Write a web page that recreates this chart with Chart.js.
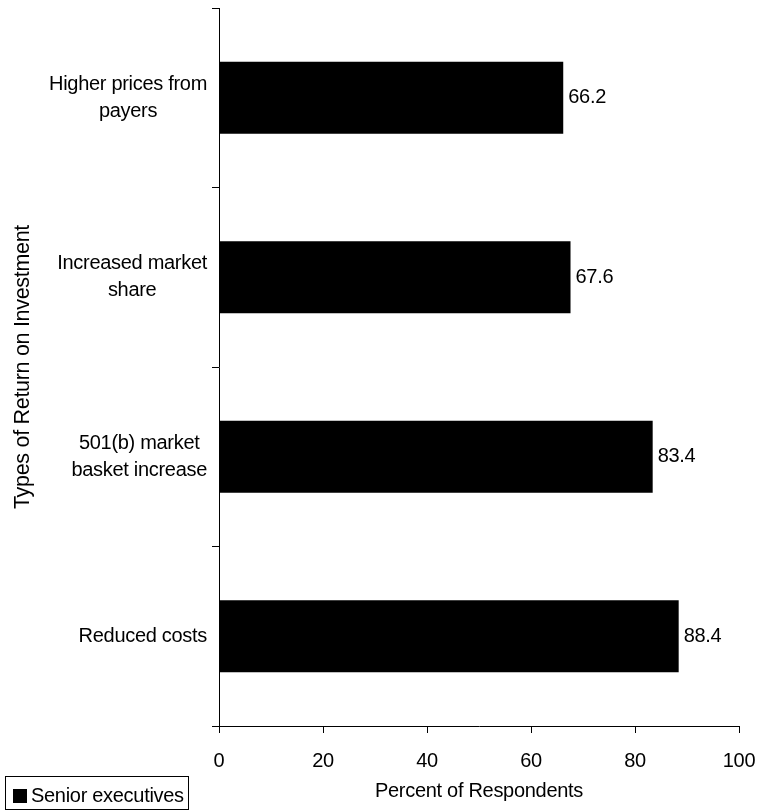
<!DOCTYPE html>
<html>
<head>
<meta charset="utf-8">
<script src="https://cdn.jsdelivr.net/npm/chart.js@4"></script>
<style>
    html, body { margin: 0; padding: 0; background: #fff; }
    #wrap { width: 759px; height: 812px; }
</style>
</head>
<body>
<div id="wrap"><canvas id="roiChart" width="759" height="812"></canvas></div>
<script>
const categories = [
    ['Higher prices from', 'payers'],
    ['Increased market', 'share'],
    ['501(b) market', 'basket increase'],
    ['Reduced costs']
];
const seniorExecs = [66.2, 67.6, 83.4, 88.4];
const seriesName  = 'Senior executives';
const xTicks      = [0, 20, 40, 60, 80, 100];

const FONT = "'Liberation Sans', Arial, sans-serif";
const SPACING = '-0.3px';

// slightly tighter text, like the original
const spacingPlugin = {
    id: 'spacing',
    beforeUpdate(chart) { chart.ctx.letterSpacing = SPACING; },
    beforeDraw(chart) { chart.ctx.letterSpacing = SPACING; }
};

// category labels: block right-aligned to the axis, lines centred inside it
const yLabelPlugin = {
    id: 'yLabels',
    afterDraw(chart) {
        const ctx = chart.ctx;
        const yScale = chart.scales.y;
        ctx.save();
        ctx.font = '20px ' + FONT;
        ctx.fillStyle = '#000';
        ctx.textAlign = 'center';
        ctx.textBaseline = 'middle';
        categories.forEach((lines, i) => {
            const cy = yScale.getPixelForValue(i);
            let maxW = 0;
            lines.forEach(l => { maxW = Math.max(maxW, ctx.measureText(l).width); });
            const cx = yScale.right - 12 - maxW / 2;
            const lh = 27;
            const start = cy - (lines.length - 1) * lh / 2;
            lines.forEach((l, j) => ctx.fillText(l, cx, start + j * lh));
        });
        ctx.restore();
    }
};

// value next to each bar end
const valuePlugin = {
    id: 'values',
    afterDatasetsDraw(chart) {
        const ctx = chart.ctx;
        const meta = chart.getDatasetMeta(0);
        ctx.save();
        ctx.font = '20px ' + FONT;
        ctx.fillStyle = '#000';
        ctx.textAlign = 'left';
        ctx.textBaseline = 'middle';
        meta.data.forEach((bar, i) => {
            ctx.fillText(seniorExecs[i].toFixed(1), bar.x + 5, bar.y);
        });
        ctx.restore();
    }
};

// boxed legend in the bottom-left corner
const legendPlugin = {
    id: 'boxLegend',
    afterDraw(chart) {
        const ctx = chart.ctx;
        ctx.save();
        ctx.strokeStyle = '#000';
        ctx.lineWidth = 1;
        ctx.strokeRect(5.5, 776.5, 183, 33);
        ctx.fillStyle = '#000';
        ctx.fillRect(13, 789, 14, 14);
        ctx.font = '20px ' + FONT;
        ctx.textAlign = 'left';
        ctx.textBaseline = 'middle';
        ctx.fillText(chart.data.datasets[0].label, 31, 796);
        ctx.restore();
    }
};

new Chart(document.getElementById('roiChart').getContext('2d'), {
    type: 'bar',
    data: {
        labels: categories,
        datasets: [{
            label: seriesName,
            data: seniorExecs,
            backgroundColor: '#000',
            borderWidth: 0,
            barPercentage: 0.4,
            categoryPercentage: 1.0
        }]
    },
    options: {
        indexAxis: 'y',
        responsive: false,
        animation: false,
        layout: { padding: { top: 8, right: 20, left: 0, bottom: 0 } },
        plugins: {
            legend: { display: false },
            tooltip: { enabled: false }
        },
        scales: {
            x: {
                min: 0,
                max: 100,
                afterBuildTicks: (scale) => { scale.ticks = xTicks.map(v => ({ value: v })); },
                afterFit: (scale) => {
                    scale.height = 86;
                    scale.paddingLeft = 0;
                    scale.paddingRight = 0;
                },
                ticks: {
                    color: '#000',
                    font: { family: FONT, size: 20 },
                    padding: 16
                },
                grid: {
                    drawOnChartArea: false,
                    tickLength: 7,
                    color: '#000'
                },
                border: { color: '#000', width: 1 },
                title: {
                    display: true,
                    text: 'Percent of Respondents',
                    color: '#000',
                    font: { family: FONT, size: 20 },
                    padding: { top: 0, bottom: 9 }
                }
            },
            y: {
                afterFit: (scale) => { scale.width = 219; },
                ticks: { display: false },
                grid: {
                    offset: true,
                    drawOnChartArea: false,
                    tickLength: 7,
                    color: '#000'
                },
                border: { color: '#000', width: 1 },
                title: {
                    display: true,
                    text: 'Types of Return on Investment',
                    color: '#000',
                    font: { family: FONT, size: 21.5 },
                    padding: { top: 10, bottom: 0 }
                }
            }
        }
    },
    plugins: [spacingPlugin, yLabelPlugin, valuePlugin, legendPlugin]
});
</script>
</body>
</html>
